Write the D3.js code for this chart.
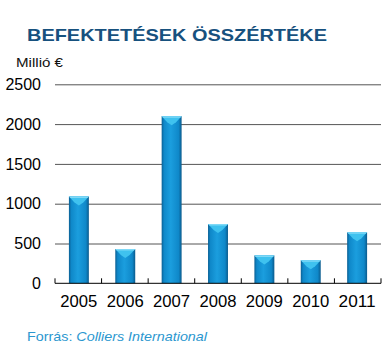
<!DOCTYPE html>
<html><head><meta charset="utf-8">
<script src="https://cdn.jsdelivr.net/npm/d3@7"></script>
<style>body{margin:0;background:#fff}svg{display:block}</style>
</head><body>
<script>
const categories = ["2005","2006","2007","2008","2009","2010","2011"];
const values = [1090, 430, 2100, 745, 350, 290, 640];
const yTicks = [0, 500, 1000, 1500, 2000, 2500];
const title = "BEFEKTETÉSEK ÖSSZÉRTÉKE";
const unit = "Millió €";

const W = 384, H = 355;
const FONT = "Liberation Sans, Arial, sans-serif";
const svg = d3.select("body").append("svg").attr("width", W).attr("height", H);
const defs = svg.append("defs");
const g1 = defs.append("linearGradient").attr("id","barg").attr("x1","0").attr("x2","1").attr("y1","0").attr("y2","0");
[[0,"#0b5f93"],[0.12,"#0f88c9"],[0.45,"#1b9ede"],[0.85,"#0f88c9"],[1,"#0a5a8c"]].forEach(([o,c])=>g1.append("stop").attr("offset",o).attr("stop-color",c));

const x = d3.scaleBand().domain(categories).range([55, 381]).paddingInner(0.57).paddingOuter(0.3);
const y = d3.scaleLinear().domain([0, 2500]).range([283.3, 84.3]);

svg.append("text").attr("x", 27).attr("y", 40.5)
  .attr("font-family",FONT).attr("font-weight","bold")
  .attr("font-size", 16.5).attr("fill","#17517e")
  .attr("textLength", 300).attr("lengthAdjust","spacingAndGlyphs").text(title);

svg.append("text").attr("x", 16).attr("y", 67).attr("font-family",FONT)
  .attr("font-size", 13).attr("fill","#111")
  .attr("textLength", 47).attr("lengthAdjust","spacingAndGlyphs").text(unit);

// grid
const yAxis = d3.axisLeft(y).tickValues(yTicks).tickSize(-(381-55)).tickPadding(14).tickFormat(d3.format("d"));
const ga = svg.append("g").attr("transform","translate(55,0)").call(yAxis);
ga.select(".domain").remove();
ga.selectAll(".tick line").attr("stroke","#555").attr("stroke-width",1).filter(d=>d===0).remove();
ga.selectAll(".tick text").attr("font-family",FONT).attr("font-size",16).attr("fill","#000");

// bars
const bars = svg.append("g").selectAll("g").data(categories.map((c,i)=>({c,v:values[i]}))).join("g");
bars.append("rect").attr("x", d=>x(d.c)).attr("width", x.bandwidth())
  .attr("y", d=>y(d.v)).attr("height", d=>y(0)-y(d.v)).attr("fill","url(#barg)");
bars.append("path").attr("d", d=>{
  const x0 = x(d.c), w = x.bandwidth(), t = y(d.v);
  return `M${x0},${t} L${x0+w},${t} L${x0+w*0.72},${t+6} L${x0+w*0.5},${t+9} L${x0+w*0.28},${t+6} Z`;
}).attr("fill","#3fc2ef");
bars.append("path").attr("d", d=>{
  const x0 = x(d.c), w = x.bandwidth(), t = y(d.v);
  return `M${x0},${t} L${x0+w},${t} L${x0+w-1.5},${t+1.5} L${x0+1.5},${t+1.5} Z`;
}).attr("fill","#7fd9f7");

// x axis
const xt = d3.scaleLinear().domain([0,7]).range([55,381]);
const xa = svg.append("g").attr("transform",`translate(0,${y(0)})`);
xa.append("line").attr("x1",55).attr("x2",381).attr("stroke","#000").attr("stroke-width",1);
xa.selectAll("line.t").data(d3.range(8)).join("line").attr("class","t")
  .attr("x1",d=>xt(d)).attr("x2",d=>xt(d)).attr("y1",0).attr("y2",-5).attr("stroke","#000");
xa.selectAll("text").data(categories).join("text").attr("x",d=>x(d)+x.bandwidth()/2).attr("y",23.5)
  .attr("text-anchor","middle").attr("font-family",FONT).attr("font-size",16).attr("fill","#000")
  .attr("textLength",37).attr("lengthAdjust","spacingAndGlyphs").text(d=>d);

const src = svg.append("text").attr("x",27).attr("y",341).attr("font-family",FONT)
  .attr("font-size",13.5).attr("fill","#2b97cf").attr("textLength",180).attr("lengthAdjust","spacingAndGlyphs");
src.append("tspan").text("Forrás: ");
src.append("tspan").attr("font-style","italic").text("Colliers International");
</script>
</body></html>
